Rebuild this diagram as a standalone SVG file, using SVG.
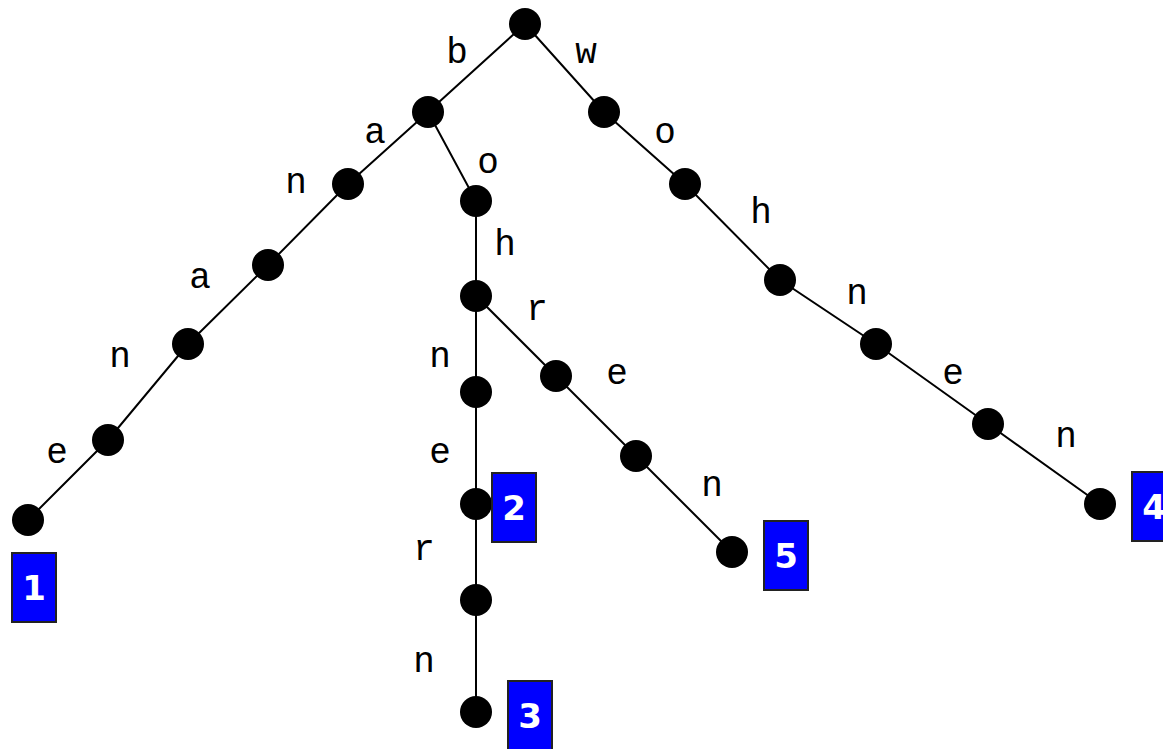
<svg xmlns="http://www.w3.org/2000/svg" width="1163" height="749" viewBox="0 0 1163 749">
  <style>
    .edge { stroke: #000; stroke-width: 2; fill: none; }
    .node { fill: #000; }
    .lbl { font-family: "Nimbus Mono PS", "Courier New", "Liberation Mono", monospace; font-size: 36px; fill: #000; text-anchor: middle; }
    .box { fill: #0000ff; stroke: #222; stroke-width: 2; }
    .num { font-family: "DejaVu Sans", sans-serif; font-weight: bold; font-size: 34px; fill: #fff; text-anchor: middle; }
  </style>
  <rect width="1163" height="749" fill="#fff"/>
  <g id="connectors">
    <path class="edge" d="M525,24 L428,112 L348,184 L268,265 L188,344 L108,440 L28,520"/>
    <path class="edge" d="M428,112 L476,201 L476,296 L476,392 L476,504 L476,600 L476,712"/>
    <path class="edge" d="M476,296 L556,376 L636,456 L732,552"/>
    <path class="edge" d="M525,24 L604,112 L685,184 L780,280 L876,344 L988,424 L1100,504"/>
  </g>
  <g id="labels">
    <text class="lbl" x="457" y="63">b</text>
    <text class="lbl" x="586" y="63">w</text>
    <text class="lbl" x="375" y="143">a</text>
    <text class="lbl" x="296" y="193">n</text>
    <text class="lbl" x="200" y="288">a</text>
    <text class="lbl" x="120" y="367">n</text>
    <text class="lbl" x="57" y="463">e</text>
    <text class="lbl" x="488" y="173">o</text>
    <text class="lbl" x="505" y="255">h</text>
    <text class="lbl" x="537" y="320">r</text>
    <text class="lbl" x="617" y="384">e</text>
    <text class="lbl" x="712" y="496">n</text>
    <text class="lbl" x="440" y="367">n</text>
    <text class="lbl" x="440" y="463">e</text>
    <text class="lbl" x="424" y="560">r</text>
    <text class="lbl" x="424" y="672">n</text>
    <text class="lbl" x="665" y="143">o</text>
    <text class="lbl" x="761" y="223">h</text>
    <text class="lbl" x="857" y="304">n</text>
    <text class="lbl" x="953" y="384">e</text>
    <text class="lbl" x="1066" y="447">n</text>
  </g>
  <g id="n-root"><circle class="node" cx="525" cy="24" r="16"/></g>
  <g id="n-b"><circle class="node" cx="428" cy="112" r="16"/></g>
  <g id="n-ba"><circle class="node" cx="348" cy="184" r="16"/></g>
  <g id="n-ban"><circle class="node" cx="268" cy="265" r="16"/></g>
  <g id="n-bana"><circle class="node" cx="188" cy="344" r="16"/></g>
  <g id="n-banan"><circle class="node" cx="108" cy="440" r="16"/></g>
  <g id="n-banane"><circle class="node" cx="28" cy="520" r="16"/>
    <rect class="box" x="12" y="553" width="44" height="69"/><text class="num" x="34" y="600">1</text></g>
  <g id="n-bo"><circle class="node" cx="476" cy="201" r="16"/></g>
  <g id="n-boh"><circle class="node" cx="476" cy="296" r="16"/></g>
  <g id="n-bohn"><circle class="node" cx="476" cy="392" r="16"/></g>
  <g id="n-bohne"><circle class="node" cx="476" cy="504" r="16"/>
    <rect class="box" x="492" y="473" width="44" height="69"/><text class="num" x="514" y="520">2</text></g>
  <g id="n-bohner"><circle class="node" cx="476" cy="600" r="16"/></g>
  <g id="n-bohnern"><circle class="node" cx="476" cy="712" r="16"/>
    <rect class="box" x="508" y="681" width="44" height="69"/><text class="num" x="530" y="728">3</text></g>
  <g id="n-bohr"><circle class="node" cx="556" cy="376" r="16"/></g>
  <g id="n-bohre"><circle class="node" cx="636" cy="456" r="16"/></g>
  <g id="n-bohren"><circle class="node" cx="732" cy="552" r="16"/>
    <rect class="box" x="764" y="521" width="44" height="69"/><text class="num" x="786" y="568">5</text></g>
  <g id="n-w"><circle class="node" cx="604" cy="112" r="16"/></g>
  <g id="n-wo"><circle class="node" cx="685" cy="184" r="16"/></g>
  <g id="n-woh"><circle class="node" cx="780" cy="280" r="16"/></g>
  <g id="n-wohn"><circle class="node" cx="876" cy="344" r="16"/></g>
  <g id="n-wohne"><circle class="node" cx="988" cy="424" r="16"/></g>
  <g id="n-wohnen"><circle class="node" cx="1100" cy="504" r="16"/>
    <rect class="box" x="1132" y="472" width="44" height="69"/><text class="num" x="1154" y="519">4</text></g>
</svg>
